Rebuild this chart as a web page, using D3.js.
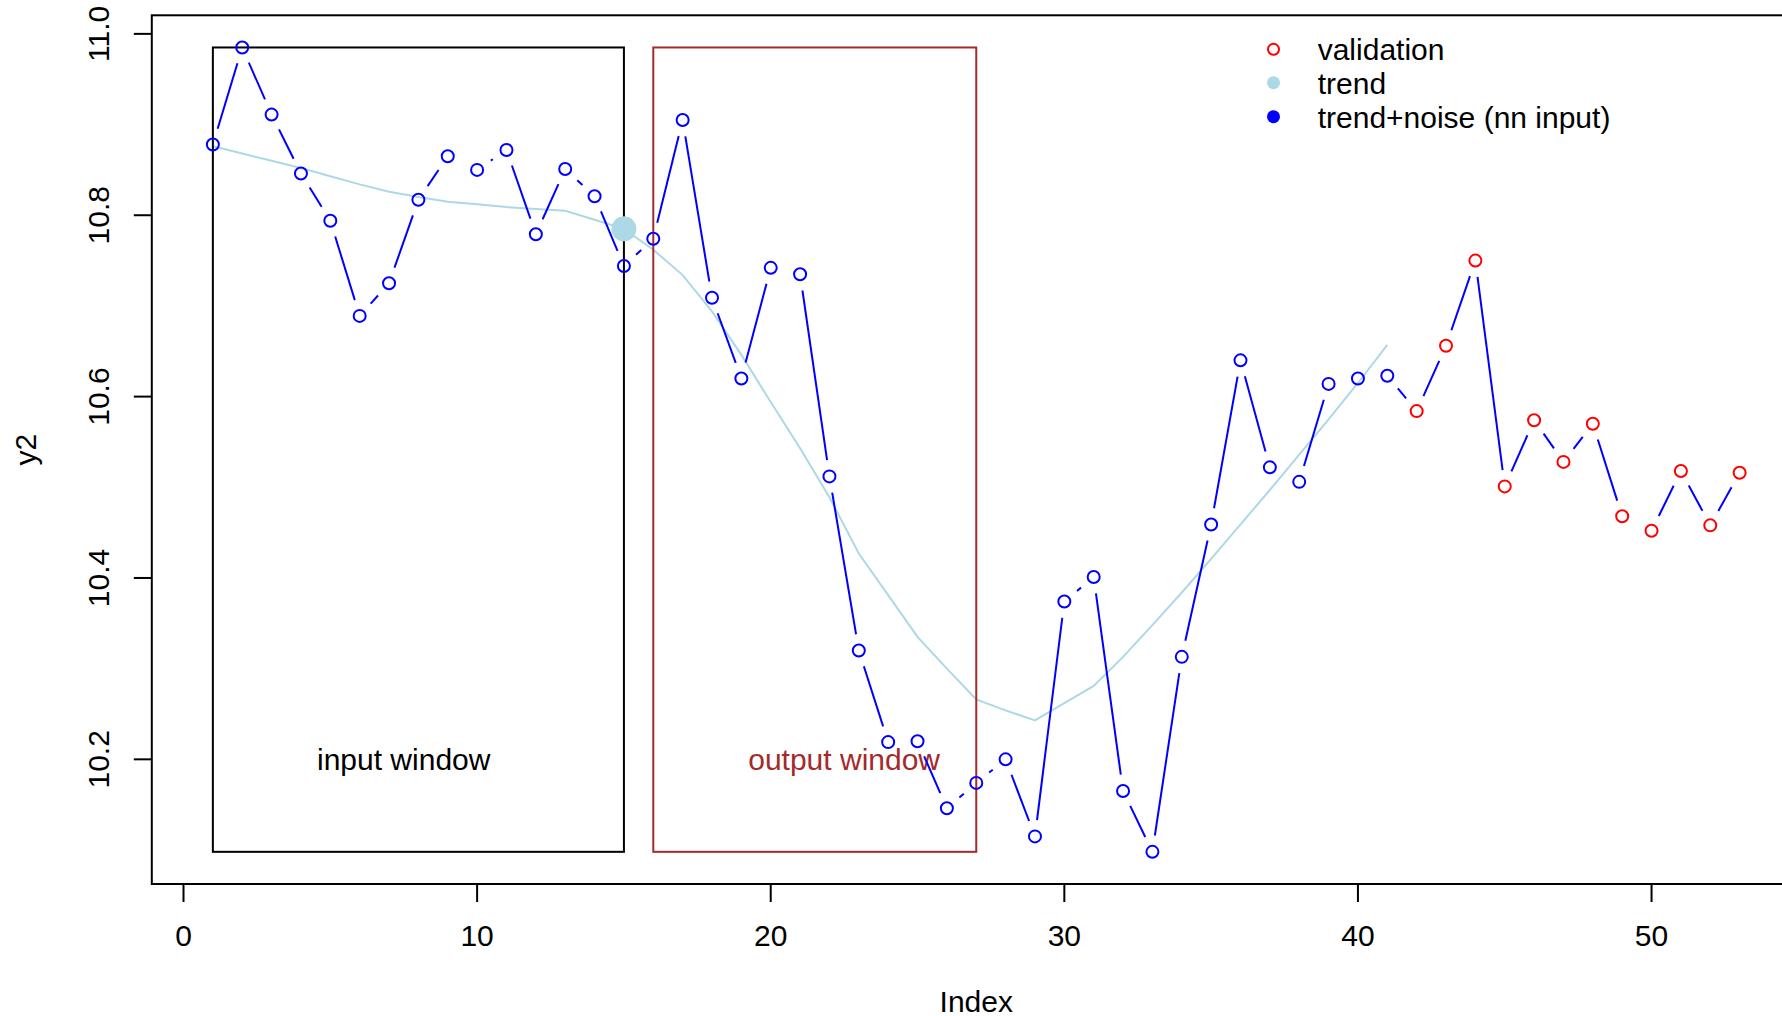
<!DOCTYPE html>
<html>
<head>
<meta charset="utf-8">
<script src="https://cdn.jsdelivr.net/npm/d3@7"></script>
<style>
  html, body { margin: 0; padding: 0; background: #fff; overflow: hidden; }
  svg { display: block; font-family: "Liberation Sans", Arial, sans-serif; }
</style>
</head>
<body>
<svg id="chart" width="1782" height="1016"></svg>
<script>
// series (index 1..53)
const y2 = [
  10.878, 10.985, 10.911, 10.846, 10.794, 10.689, 10.725, 10.817, 10.865, 10.850,
  10.872, 10.779, 10.851, 10.821, 10.744, 10.774, 10.905, 10.709, 10.620, 10.742,
  10.735, 10.512, 10.320, 10.219, 10.220, 10.146, 10.174, 10.200, 10.115, 10.374,
  10.401, 10.165, 10.098, 10.313, 10.459, 10.640, 10.522, 10.506, 10.614, 10.620,
  10.623, 10.584, 10.656, 10.750, 10.501, 10.574, 10.528, 10.570, 10.468, 10.452,
  10.518, 10.458, 10.516
];
// smooth trend for index 1..41
const trend = [
  10.876, 10.868, 10.860, 10.852, 10.843, 10.834, 10.826, 10.820, 10.815, 10.812,
  10.809, 10.807, 10.805, 10.795, 10.785, 10.762, 10.734, 10.694, 10.646, 10.594,
  10.543, 10.489, 10.427, 10.381, 10.335, 10.300, 10.266, 10.254, 10.243, 10.262,
  10.281, 10.313, 10.348, 10.384, 10.421, 10.459, 10.497, 10.536, 10.575, 10.615,
  10.657
];
const nTrain = 41;            // points after this one are validation
const windowInput = [1, 15];
const windowOutput = [16, 27];
const markedTrend = 15;       // big trend dot
const xTicks = [0, 10, 20, 30, 40, 50];
const yTicks = [10.2, 10.4, 10.6, 10.8, 11.0];
const legendLabels = ['validation', 'trend', 'trend+noise (nn input)'];

const svg = d3.select('#chart');
const plot = { left: 151.8, top: 15.3, right: 1800.7, bottom: 884 };
const fontSize = 30;

// R style axis limits: data range widened by 4% on each side
const idx = y2.map((_, i) => i + 1);
const [xmin, xmax] = d3.extent(idx);
const [ymin, ymax] = d3.extent(y2);
const xpad = 0.04 * (xmax - xmin), ypad = 0.04 * (ymax - ymin);

const x = d3.scaleLinear().domain([xmin - xpad, xmax + xpad]).range([plot.left, plot.right]);
const y = d3.scaleLinear().domain([ymin - ypad, ymax + ypad]).range([plot.bottom, plot.top]);

// trend line
svg.append('path')
  .datum(trend)
  .attr('fill', 'none')
  .attr('stroke', '#ADD8E6')
  .attr('stroke-width', 2)
  .attr('d', d3.line().x((d, i) => x(i + 1)).y(d => y(d)));

// window boxes
const boxes = [
  { w: windowInput, color: '#000000', label: 'input window', lx: 7.5 },
  { w: windowOutput, color: '#A52A2A', label: 'output window', lx: 22.5 }
];
boxes.forEach(b => {
  svg.append('rect')
    .attr('x', x(b.w[0]))
    .attr('y', y(ymax))
    .attr('width', x(b.w[1]) - x(b.w[0]))
    .attr('height', y(ymin) - y(ymax))
    .attr('fill', 'none')
    .attr('stroke', b.color)
    .attr('stroke-width', 2);
  svg.append('text')
    .attr('x', x(b.lx))
    .attr('y', y(10.2) + 10.7)
    .attr('text-anchor', 'middle')
    .attr('fill', b.color)
    .style('font-size', fontSize + 'px')
    .text(b.label);
});

// type="b": segments with a gap around each point
const gap = 16.5;
const segs = [];
for (let i = 0; i < y2.length - 1; i++) {
  const x0 = x(i + 1), y0 = y(y2[i]), x1 = x(i + 2), y1 = y(y2[i + 1]);
  const len = Math.hypot(x1 - x0, y1 - y0);
  if (len <= 2 * gap) continue;
  const ux = (x1 - x0) / len, uy = (y1 - y0) / len;
  segs.push([x0 + ux * gap, y0 + uy * gap, x1 - ux * gap, y1 - uy * gap]);
}
svg.append('g').selectAll('line')
  .data(segs)
  .join('line')
  .attr('x1', d => d[0]).attr('y1', d => d[1])
  .attr('x2', d => d[2]).attr('y2', d => d[3])
  .attr('stroke', '#0000FF')
  .attr('stroke-width', 2);

svg.append('g').selectAll('circle')
  .data(y2)
  .join('circle')
  .attr('cx', (d, i) => x(i + 1))
  .attr('cy', d => y(d))
  .attr('r', 6)
  .attr('fill', 'none')
  .attr('stroke', (d, i) => i + 1 > nTrain ? '#FF0000' : '#0000FF')
  .attr('stroke-width', 2);

// marked trend point
svg.append('circle')
  .attr('cx', x(markedTrend))
  .attr('cy', y(trend[markedTrend - 1]))
  .attr('r', 12.5)
  .attr('fill', '#ADD8E6');

// frame
svg.append('rect')
  .attr('x', plot.left).attr('y', plot.top)
  .attr('width', plot.right - plot.left).attr('height', plot.bottom - plot.top)
  .attr('fill', 'none').attr('stroke', '#000').attr('stroke-width', 2);

// x axis
const xAxis = svg.append('g');
xAxis.selectAll('line').data(xTicks).join('line')
  .attr('x1', d => x(d)).attr('x2', d => x(d))
  .attr('y1', plot.bottom).attr('y2', plot.bottom + 18)
  .attr('stroke', '#000').attr('stroke-width', 2);
xAxis.selectAll('text').data(xTicks).join('text')
  .attr('x', d => x(d)).attr('y', 946)
  .attr('text-anchor', 'middle')
  .style('font-size', fontSize + 'px')
  .text(d => d);

// y axis
const yAxis = svg.append('g');
yAxis.selectAll('line').data(yTicks).join('line')
  .attr('x1', plot.left - 18).attr('x2', plot.left)
  .attr('y1', d => y(d)).attr('y2', d => y(d))
  .attr('stroke', '#000').attr('stroke-width', 2);
yAxis.selectAll('text').data(yTicks).join('text')
  .attr('transform', d => `translate(109,${y(d)}) rotate(-90)`)
  .attr('text-anchor', 'middle')
  .style('font-size', fontSize + 'px')
  .text(d => d.toFixed(1));

// axis titles
svg.append('text')
  .attr('x', (plot.left + plot.right) / 2).attr('y', 1012)
  .attr('text-anchor', 'middle')
  .style('font-size', fontSize + 'px')
  .text('Index');
svg.append('text')
  .attr('transform', `translate(36,${(plot.top + plot.bottom) / 2}) rotate(-90)`)
  .attr('text-anchor', 'middle')
  .style('font-size', fontSize + 'px')
  .text('y2');

// legend
const legend = svg.append('g');
const legendY = [49.3, 82.7, 116.7];
const sym = legend.selectAll('circle').data(legendLabels).join('circle')
  .attr('cx', 1273.5)
  .attr('cy', (d, i) => legendY[i]);
sym.filter((d, i) => i === 0)
  .attr('r', 5.5).attr('fill', 'none').attr('stroke', '#FF0000').attr('stroke-width', 2);
sym.filter((d, i) => i === 1).attr('r', 6.5).attr('fill', '#ADD8E6');
sym.filter((d, i) => i === 2).attr('r', 6.5).attr('fill', '#0000FF');
legend.selectAll('text').data(legendLabels).join('text')
  .attr('x', 1317.7)
  .attr('y', (d, i) => legendY[i] + 11)
  .style('font-size', fontSize + 'px')
  .text(d => d);
</script>
</body>
</html>
